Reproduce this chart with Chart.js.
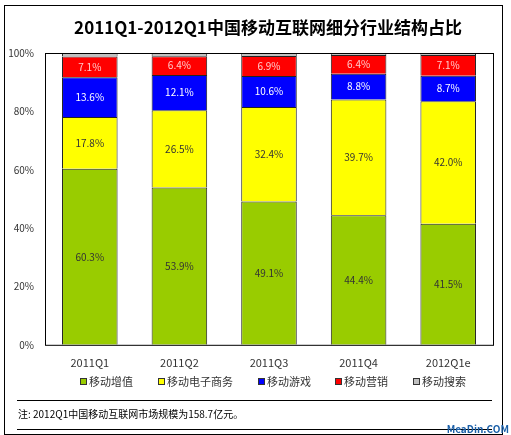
<!DOCTYPE html>
<html><head><meta charset="utf-8">
<script src="https://cdn.jsdelivr.net/npm/chart.js@4"></script>
<style>html,body{margin:0;padding:0;background:#fff}#w{width:511px;height:435px}</style>
</head><body><div id="w"><canvas id="c"></canvas></div>
<script>
const categories=['2011Q1','2011Q2','2011Q3','2011Q4','2012Q1e'];
const seriesNames=['移动增值','移动电子商务','移动游戏','移动营销','移动搜索'];
const vas=[60.3,53.9,49.1,44.4,41.5];
const ecom=[17.8,26.5,32.4,39.7,42.0];
const games=[13.6,12.1,10.6,8.8,8.7];
const marketing=[7.1,6.4,6.9,6.4,7.1];
const search=[1.2,1.1,1.0,0.7,0.7];
const yTicks=[0,20,40,60,80,100];
const colors=['#99cc00','#ffff00','#0000ff','#ff0000','#c0c0c0'];
const labelColors=['#333','#333','#fff','#ffcccc',null];
const FONT='"Noto Sans CJK SC", sans-serif';
const data=[vas,ecom,games,marketing,search];
const deco={id:'deco',afterDraw(ch){
  const c=ch.ctx;c.save();
  c.strokeStyle='#000';c.lineWidth=1;c.strokeRect(4.5,5.5,498,429);
  c.fillStyle='#000';c.font='bold 17px '+FONT;c.textAlign='center';c.textBaseline='middle';
  c.fillText('2011Q1-2012Q1中国移动互联网细分行业结构占比',268,28);
  const a=ch.chartArea;c.strokeRect(a.left+.5,a.top+.5,a.right-a.left,a.bottom-a.top);
  c.font='11px '+FONT;c.textAlign='left';
  const lx=[80,158,258,335,413];
  seriesNames.forEach((n,i)=>{c.fillStyle=colors[i];c.fillRect(lx[i],378,7,7);c.strokeStyle='#333';c.strokeRect(lx[i]+.5,378.5,6,6);c.fillStyle='#333';c.fillText(n,lx[i]+9,382);});
  c.strokeStyle='#000';c.beginPath();c.moveTo(17,400.5);c.lineTo(492,400.5);c.moveTo(17,429.5);c.lineTo(492,429.5);c.stroke();
  c.fillStyle='#000';c.font='10px '+FONT;c.fillText('注: 2012Q1中国移动互联网市场规模为158.7亿元。',18,414);
  c.fillStyle='#1a5fa8';c.font='bold 10px '+FONT;c.textAlign='right';c.fillText('MeaDin.COM',509,429);
  c.textAlign='center';c.font='10px '+FONT;
  for(let d=0;d<4;d++){const m=ch.getDatasetMeta(d);m.data.forEach((b,i)=>{c.fillStyle=labelColors[d];c.fillText(data[d][i].toFixed(1)+'%',b.x,(b.y+b.base)/2);});}
  c.restore();}};
new Chart(document.getElementById('c'),{type:'bar',
 data:{labels:categories,datasets:data.map((v,i)=>({label:seriesNames[i],data:v,backgroundColor:colors[i],borderColor:'#222',borderWidth:1,barPercentage:0.62,categoryPercentage:1}))},
 options:{responsive:true,maintainAspectRatio:false,animation:false,devicePixelRatio:1,
  layout:{padding:{top:53,bottom:63,left:4,right:18}},
  plugins:{legend:{display:false},tooltip:{enabled:false}},
  scales:{x:{stacked:true,grid:{display:false},border:{display:false},ticks:{color:'#333',font:{family:FONT,size:11}}},
   y:{stacked:true,min:0,max:100,afterFit(s){s.width=41},afterBuildTicks(s){s.ticks=yTicks.map(v=>({value:v}))},grid:{display:false},border:{display:false},ticks:{color:'#333',font:{family:FONT,size:10},callback:v=>v+'%'}}}},
 plugins:[deco]});
</script></body></html>
